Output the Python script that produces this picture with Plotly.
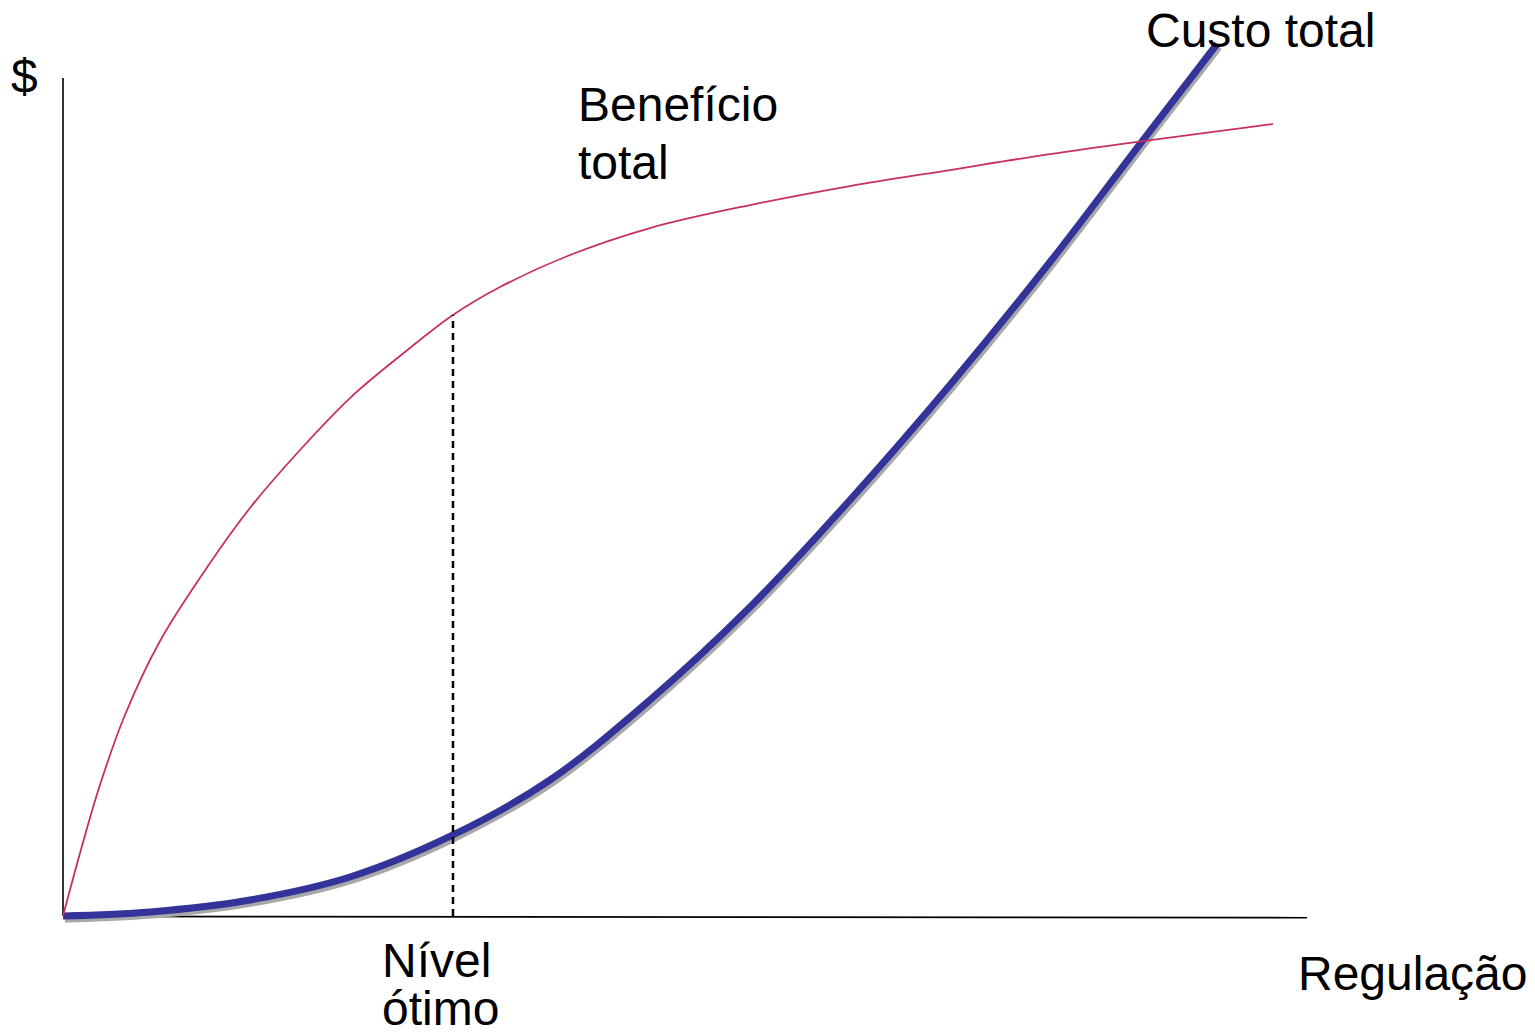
import plotly.graph_objects as go

# ---- data (arbitrary units 0-100) ----
benefit_x = [0, 1.37, 2.97, 4.98, 7.80, 11.82, 15.03, 19.05, 23.07, 27.09, 31.35,
             35.13, 40.76, 47.19, 55.23, 63.26, 71.30, 79.34, 86.82, 97.27]
benefit_y = [0, 7.52, 15.63, 23.99, 32.82, 42.12, 48.69, 55.61, 61.81, 66.83, 71.72,
             75.06, 78.88, 82.10, 84.84, 87.11, 89.02, 90.93, 92.48, 94.51]

cost_x = [0, 6.99, 15.03, 23.07, 31.35, 39.15, 47.19, 55.23, 63.26, 71.30, 79.34,
          86.82, 92.77]
cost_y = [0, 0.48, 1.91, 4.65, 9.67, 16.23, 25.78, 36.87, 49.64, 63.37, 78.04,
          92.60, 104.06]

optimal_x = 31.35
optimal_benefit = 71.72

axis_x_end = 100
axis_y_end = 100

labels = {
    "dollar": "$",
    "benefit1": "Benefício",
    "benefit2": "total",
    "cost": "Custo total",
    "opt1": "Nível",
    "opt2": "ótimo",
    "xaxis": "Regulação",
}

FONT = "Liberation Sans, Arial, sans-serif"
BLUE = "#333399"
PINK = "#c8305f"
SHADOW = "#a8a8a8"

fig = go.Figure()

# shadow of cost curve (small visual offset)
sdx, sdy = 0.16, -0.36
fig.add_trace(go.Scatter(x=[v + sdx for v in cost_x], y=[v + sdy for v in cost_y],
                         mode="lines", line=dict(color=SHADOW, width=7, shape="spline", smoothing=1.0),
                         hoverinfo="skip", showlegend=False))
fig.add_trace(go.Scatter(x=cost_x, y=cost_y, mode="lines",
                         line=dict(color=BLUE, width=7, shape="spline", smoothing=1.0),
                         showlegend=False, name=labels["cost"]))
fig.add_trace(go.Scatter(x=benefit_x, y=benefit_y, mode="lines",
                         line=dict(color=PINK, width=1.8, shape="spline", smoothing=1.0),
                         showlegend=False, name="Benefício total"))
fig.add_trace(go.Scatter(x=[optimal_x, optimal_x], y=[0, optimal_benefit], mode="lines",
                         line=dict(color="black", width=2.5, dash="7px,5px"),
                         showlegend=False, name="Nível ótimo"))

# axes lines
fig.add_shape(type="line", x0=0, y0=0, x1=0, y1=axis_y_end, xref="x", yref="y",
              line=dict(color="black", width=1.6), layer="below")
fig.add_shape(type="line", x0=0, y0=-0.05, x1=axis_x_end, y1=-0.2, xref="x", yref="y",
              line=dict(color="black", width=1.6), layer="below")

def ann(text, x, y, xanchor="left"):
    fig.add_annotation(text=text, x=x, y=y, xref="x", yref="y", showarrow=False,
                       xanchor=xanchor, yanchor="middle",
                       font=dict(family=FONT, size=48, color="black"))

ann(labels["dollar"], -3.13, 100.2, xanchor="center")
ann(labels["benefit1"], 41.2, 96.8)
ann(labels["benefit2"], 41.2, 89.9)
ann(labels["cost"], 86.9, 105.7)
ann(labels["opt1"], 25.5, -5.3)
ann(labels["opt2"], 25.5, -11.0)
ann(labels["xaxis"], 99.1, -6.9)

fig.update_layout(
    width=1535, height=1036,
    margin=dict(l=0, r=0, t=0, b=0),
    paper_bgcolor="white", plot_bgcolor="white",
    xaxis=dict(range=[-5.064, 118.33], visible=False, fixedrange=True),
    yaxis=dict(range=[-14.32, 109.31], visible=False, fixedrange=True),
    showlegend=False,
)

fig.write_html("out.html", post_script="document.body.style.margin='0';",
               config={"displayModeBar": False})
